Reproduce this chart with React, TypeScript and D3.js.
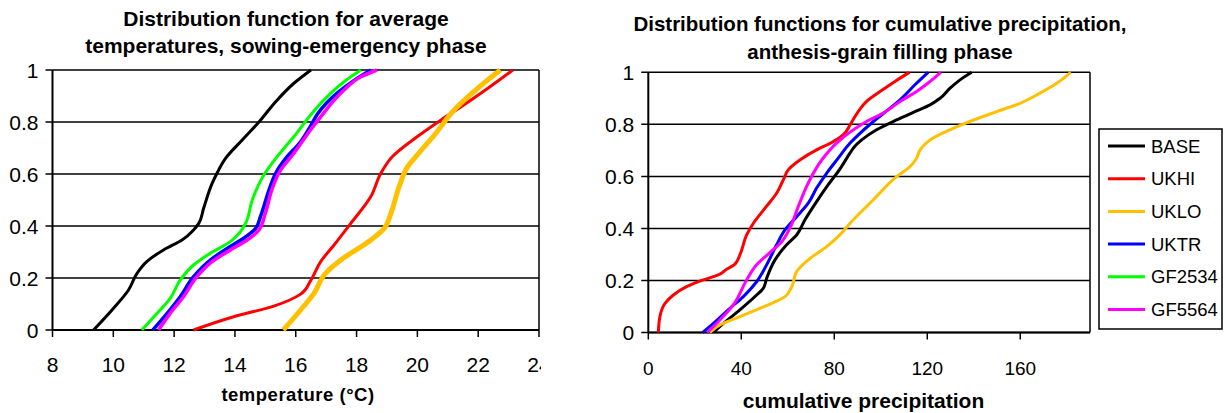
import React from "react";
import * as d3 from "d3";

// series names and colours (legend order)
const seriesNames = ["BASE", "UKHI", "UKLO", "UKTR", "GF2534", "GF5564"];
const seriesColors = ["#000000", "#ff0000", "#ffc000", "#0000ff", "#00ff00", "#ff00ff"];

const probTicks = [0, 0.2, 0.4, 0.6, 0.8, 1];
const tempTicks = [8, 10, 12, 14, 16, 18, 20, 22, 24];
const precipTicks = [0, 40, 80, 120, 160];

// left chart: average temperature (°C) vs cumulative probability
const baseTemp: [number, number][] = [[9.35, 0], [10.0, 0.083], [10.5, 0.154], [10.78, 0.218], [11.1, 0.263], [11.65, 0.308], [12.26, 0.346], [12.64, 0.385], [12.81, 0.41], [12.97, 0.468], [13.25, 0.564], [13.41, 0.603], [13.69, 0.66], [14.24, 0.731], [14.79, 0.8], [15.34, 0.878], [15.94, 0.949], [16.5, 1]];
const ukhiTemp: [number, number][] = [[12.64, 0], [13.96, 0.051], [15.28, 0.092], [16.16, 0.138], [16.49, 0.19], [16.82, 0.263], [17.26, 0.327], [17.81, 0.41], [18.47, 0.513], [18.8, 0.603], [19.18, 0.667], [20.0, 0.744], [20.78, 0.808], [21.44, 0.859], [22.32, 0.93], [23.14, 1]];
const ukloTemp: [number, number][] = [[15.59, 0], [16.16, 0.077], [16.6, 0.141], [16.98, 0.218], [17.48, 0.269], [18.47, 0.346], [18.91, 0.391], [19.13, 0.449], [19.4, 0.551], [19.68, 0.628], [19.95, 0.667], [20.56, 0.75], [21.21, 0.846], [21.99, 0.93], [22.73, 1]];
const uktrTemp: [number, number][] = [[11.3, 0], [11.77, 0.064], [12.2, 0.128], [12.64, 0.205], [13.19, 0.269], [13.74, 0.314], [14.29, 0.353], [14.68, 0.391], [14.84, 0.436], [15.12, 0.538], [15.34, 0.603], [15.67, 0.66], [16.16, 0.724], [16.49, 0.785], [16.71, 0.83], [17.37, 0.912], [17.92, 0.96], [18.47, 1]];
const gf2534Temp: [number, number][] = [[10.94, 0], [11.44, 0.064], [11.87, 0.122], [12.2, 0.192], [12.64, 0.25], [13.19, 0.295], [13.85, 0.34], [14.18, 0.378], [14.35, 0.41], [14.57, 0.5], [14.95, 0.596], [15.39, 0.667], [15.94, 0.744], [16.49, 0.827], [16.93, 0.885], [17.59, 0.955], [18.14, 1]];
const gf5564Temp: [number, number][] = [[11.49, 0], [11.87, 0.064], [12.31, 0.128], [12.75, 0.205], [13.25, 0.263], [13.85, 0.308], [14.4, 0.346], [14.79, 0.385], [15.0, 0.449], [15.23, 0.545], [15.5, 0.615], [15.94, 0.68], [16.49, 0.77], [16.82, 0.82], [17.59, 0.923], [18.14, 0.974], [18.67, 1]];

// right chart: cumulative precipitation vs cumulative probability
const basePrecip: [number, number][] = [[28, 0], [32.3, 0.035], [39.4, 0.087], [46.6, 0.144], [49.5, 0.17], [50.9, 0.208], [54.5, 0.279], [59.5, 0.337], [63.8, 0.375], [67.4, 0.433], [72.4, 0.503], [77.4, 0.568], [82.4, 0.628], [86.8, 0.69], [88.5, 0.712], [91.8, 0.74], [98.2, 0.779], [106.8, 0.817], [114.7, 0.849], [121.2, 0.875], [125.5, 0.9], [129.8, 0.939], [134.1, 0.971], [139.1, 1]];
const ukhiPrecip: [number, number][] = [[4.3, 0], [5.0, 0.061], [7.2, 0.112], [10.8, 0.144], [16.5, 0.176], [23.7, 0.202], [30.1, 0.221], [33.7, 0.243], [37.3, 0.263], [39.4, 0.298], [42.3, 0.375], [45.2, 0.42], [50.2, 0.478], [55.2, 0.535], [58.1, 0.587], [60.2, 0.625], [65.2, 0.663], [72.4, 0.702], [78.9, 0.73], [83.9, 0.76], [86.8, 0.798], [90.3, 0.849], [93.9, 0.888], [99.7, 0.926], [106.1, 0.965], [112.3, 1]];
const ukloPrecip: [number, number][] = [[26.5, 0], [30.8, 0.029], [39.4, 0.061], [48, 0.093], [53.8, 0.115], [58.8, 0.138], [61.7, 0.176], [63.8, 0.234], [68.8, 0.279], [76.7, 0.33], [82.4, 0.375], [86.8, 0.42], [96.8, 0.51], [106.8, 0.599], [112.6, 0.638], [115.4, 0.67], [116.9, 0.702], [121.2, 0.74], [129.8, 0.779], [138.4, 0.811], [149.9, 0.849], [159.9, 0.881], [168.5, 0.92], [175.7, 0.958], [181.7, 1]];
const uktrPrecip: [number, number][] = [[23.4, 0], [28, 0.035], [35.1, 0.093], [40.9, 0.138], [46.6, 0.195], [50.9, 0.26], [55.2, 0.337], [58.8, 0.394], [63.8, 0.445], [68.8, 0.497], [72.4, 0.555], [76.7, 0.612], [81.7, 0.67], [86.8, 0.728], [88.9, 0.747], [96.8, 0.811], [104, 0.862], [109, 0.9], [114.7, 0.952], [120.4, 1]];
const gf5564Precip: [number, number][] = [[25.4, 0], [30.8, 0.048], [36.6, 0.106], [42.3, 0.202], [46.6, 0.26], [52.3, 0.307], [57.4, 0.349], [60.9, 0.401], [64.5, 0.484], [69.5, 0.587], [74.6, 0.663], [81, 0.728], [86.8, 0.77], [93.9, 0.811], [101.1, 0.843], [108.3, 0.888], [115.4, 0.926], [121.2, 0.965], [125.8, 1]];

const tempSeries = [
  { name: "BASE", data: baseTemp, w: 3 },
  { name: "UKHI", data: ukhiTemp, w: 3 },
  { name: "UKLO", data: ukloTemp, w: 5 },
  { name: "UKTR", data: uktrTemp, w: 3.5 },
  { name: "GF2534", data: gf2534Temp, w: 3 },
  { name: "GF5564", data: gf5564Temp, w: 3.5 },
];
const precipSeries = [
  { name: "BASE", data: basePrecip, w: 3 },
  { name: "UKHI", data: ukhiPrecip, w: 3 },
  { name: "UKLO", data: ukloPrecip, w: 3 },
  { name: "UKTR", data: uktrPrecip, w: 3 },
  { name: "GF5564", data: gf5564Precip, w: 3 },
];

const FONT = "'Liberation Sans', Arial, Helvetica, sans-serif";
const color = d3.scaleOrdinal<string, string>().domain(seriesNames).range(seriesColors);

type Props = {
  x: d3.ScaleLinear<number, number>;
  y: d3.ScaleLinear<number, number>;
  xTicks: number[];
  series: { name: string; data: [number, number][]; w: number }[];
  xFont: number;
  yFont: number;
  clipId?: string;
};

function Panel({ x, y, xTicks, series, xFont, yFont, clipId }: Props) {
  const [x0, x1] = x.range();
  const [y0, y1] = y.range();
  const line = d3
    .line<[number, number]>()
    .x((d) => x(d[0]))
    .y((d) => y(d[1]))
    .curve(d3.curveMonotoneY);
  return (
    <g clipPath={clipId ? `url(#${clipId})` : undefined}>
      {probTicks.map((t) => (
        <g key={"g" + t}>
          <line x1={x0 - 7} x2={x1} y1={y(t)} y2={y(t)} stroke="#000" strokeWidth={1.5} />
          <text x={x0 - 14} y={y(t)} dy="0.36em" textAnchor="end" fontSize={yFont} fontFamily={FONT}>
            {t}
          </text>
        </g>
      ))}
      {xTicks.map((t) => (
        <g key={"x" + t}>
          <line x1={x(t)} x2={x(t)} y1={y0} y2={y0 + 7} stroke="#000" strokeWidth={1.5} />
          <text x={x(t)} y={y0 + 42} textAnchor="middle" fontSize={xFont} fontFamily={FONT}>
            {t}
          </text>
        </g>
      ))}
      <line x1={x0} x2={x0} y1={y1} y2={y0} stroke="#000" strokeWidth={2} />
      <line x1={x1} x2={x1} y1={y1} y2={y0} stroke="#000" strokeWidth={1.5} />
      <line x1={x0} x2={x1} y1={y0} y2={y0} stroke="#000" strokeWidth={2} />
      {series.map((s) => (
        <path key={s.name} d={line(s.data) || ""} fill="none" stroke={color(s.name)} strokeWidth={s.w} strokeLinejoin="round" />
      ))}
    </g>
  );
}

export default function App() {
  const xT = d3.scaleLinear().domain([8, 24]).range([52.5, 539]);
  const yT = d3.scaleLinear().domain([0, 1]).range([330, 70]);
  const xP = d3.scaleLinear().domain([0, 190]).range([648.3, 1090]);
  const yP = d3.scaleLinear().domain([0, 1]).range([332.5, 72.3]);

  return (
    <svg
      width={1226}
      height={413}
      style={{ position: "absolute", left: 0, top: 0, background: "#fff" }}
      fontFamily={FONT}
    >
      <defs>
        <clipPath id="leftClip">
          <rect x={0} y={0} width={541} height={413} />
        </clipPath>
      </defs>
      <rect width={1226} height={413} fill="#fff" />

      {/* left chart */}
      <text textAnchor="middle" fontWeight="bold" fontSize={21}>
        <tspan x={286} y={26}>Distribution function for average</tspan>
        <tspan x={286} y={53}>temperatures, sowing-emergency phase</tspan>
      </text>
      <Panel x={xT} y={yT} xTicks={tempTicks} series={tempSeries} xFont={21} yFont={21} clipId="leftClip" />
      <text x={298} y={401} textAnchor="middle" fontWeight="bold" fontSize={18.5} letterSpacing={0.5}>
        temperature (°C)
      </text>

      {/* right chart */}
      <text textAnchor="middle" fontWeight="bold" fontSize={20.5}>
        <tspan x={880} y={31}>Distribution functions for cumulative precipitation,</tspan>
        <tspan x={880} y={59}>anthesis-grain filling phase</tspan>
      </text>
      <Panel x={xP} y={yP} xTicks={precipTicks} series={precipSeries} xFont={19} yFont={21} />
      <text x={863.5} y={408} textAnchor="middle" fontWeight="bold" fontSize={21}>
        cumulative precipitation
      </text>

      {/* legend */}
      <rect x={1099} y={129} width={123} height={200} fill="#fff" stroke="#000" strokeWidth={1.5} />
      {seriesNames.map((n, i) => (
        <g key={n} transform={`translate(0,${146 + i * 32.7})`}>
          <line x1={1108} x2={1145} y1={0} y2={0} stroke={color(n)} strokeWidth={3} />
          <text x={1151} y={0} dy="0.36em" fontSize={18.5}>
            {n}
          </text>
        </g>
      ))}
    </svg>
  );
}
